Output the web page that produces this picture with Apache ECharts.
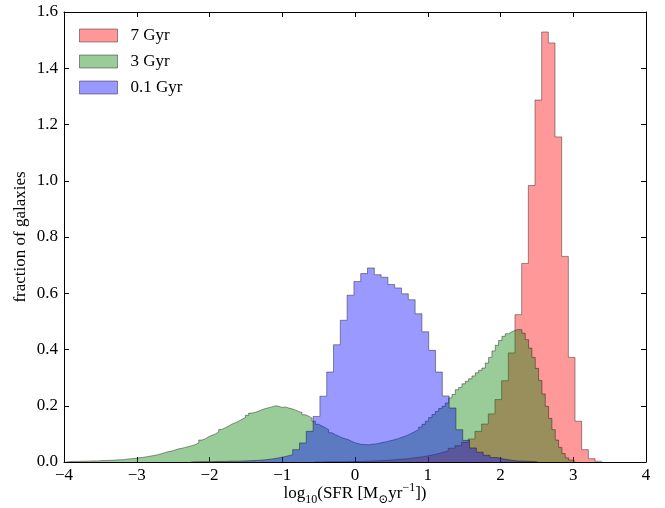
<!DOCTYPE html>
<html>
<head>
<meta charset="utf-8">
<script src="https://cdn.jsdelivr.net/npm/echarts@6/dist/echarts.min.js"></script>
<style>
  html, body { margin: 0; padding: 0; background: #fff; }
  #chart { width: 665px; height: 508px; }
</style>
</head>
<body>
<div id="chart"></div>
<script>
// histogram bins: left edge of first bin, bin width, bar heights
const redStart = -0.552, redWidth = 0.0917;
const red = [
  0.000, 0.001, 0.001, 0.001, 0.001, 0.002, 0.002, 0.003, 0.004, 0.005,
  0.006, 0.008, 0.010, 0.012, 0.015, 0.018, 0.022, 0.027, 0.033, 0.040,
  0.049, 0.058, 0.070, 0.082, 0.109, 0.135, 0.171, 0.222, 0.289, 0.388,
  0.524, 0.706, 0.983, 1.287, 1.529, 1.490, 1.156, 0.731, 0.372, 0.145,
  0.044, 0.012, 0.003
];

const greenStart = -3.98, greenWidth = 0.0458;
const green = [
  0.001, 0.002, 0.002, 0.002, 0.003, 0.003, 0.003, 0.004, 0.004, 0.004,
  0.005, 0.005, 0.006, 0.006, 0.007, 0.008, 0.008, 0.009, 0.011, 0.012,
  0.013, 0.015, 0.016, 0.018, 0.020, 0.022, 0.024, 0.027, 0.030, 0.034,
  0.037, 0.039, 0.043, 0.047, 0.049, 0.052, 0.055, 0.058, 0.062, 0.068,
  0.078, 0.083, 0.090, 0.095, 0.100, 0.107, 0.116, 0.122, 0.128, 0.135,
  0.140, 0.145, 0.152, 0.158, 0.166, 0.174, 0.177, 0.181, 0.186, 0.190,
  0.193, 0.196, 0.200, 0.198, 0.194, 0.196, 0.192, 0.189, 0.185, 0.180,
  0.176, 0.168, 0.163, 0.156, 0.145, 0.134, 0.128, 0.122, 0.115, 0.104,
  0.097, 0.092, 0.086, 0.083, 0.079, 0.073, 0.068, 0.065, 0.062, 0.062,
  0.061, 0.063, 0.064, 0.066, 0.069, 0.071, 0.074, 0.077, 0.080, 0.084,
  0.088, 0.092, 0.097, 0.103, 0.109, 0.116, 0.124, 0.134, 0.145, 0.158,
  0.169, 0.180, 0.190, 0.198, 0.210, 0.228, 0.240, 0.257, 0.265, 0.278,
  0.287, 0.296, 0.306, 0.317, 0.326, 0.334, 0.352, 0.372, 0.395, 0.415,
  0.432, 0.447, 0.456, 0.463, 0.468, 0.471, 0.470, 0.458, 0.435, 0.405,
  0.372, 0.333, 0.290, 0.242, 0.198, 0.155, 0.115, 0.078, 0.052, 0.030,
  0.015, 0.007, 0.002
];

const blueStart = -2.259, blueWidth = 0.0935;
const blue = [
  0.001, 0.001, 0.001, 0.002, 0.002, 0.003, 0.003, 0.004, 0.005, 0.006,
  0.008, 0.011, 0.015, 0.020, 0.026, 0.044, 0.068, 0.109,
  0.162, 0.234, 0.320, 0.417, 0.504, 0.593, 0.642, 0.670, 0.690, 0.666,
  0.657, 0.631, 0.619, 0.598, 0.577, 0.527, 0.463, 0.397, 0.320, 0.235,
  0.192, 0.115, 0.077, 0.050, 0.035, 0.024, 0.016, 0.011, 0.007, 0.004,
  0.003, 0.002, 0.001
];

const labels = ['7 Gyr', '3 Gyr', '0.1 Gyr'];
const xTicks = [-4, -3, -2, -1, 0, 1, 2, 3, 4];

const serif = "'Liberation Serif', 'DejaVu Serif', serif";
const fills = ['rgba(255,0,0,0.4)', 'rgba(0,128,0,0.4)', 'rgba(0,0,255,0.4)'];
const edge = 'rgba(0,0,0,0.4)';

// turn bins into points for a step line that outlines the histogram
function toSteps(start, width, vals) {
  const pts = [[start, 0]];
  vals.forEach((v, i) => pts.push([start + i * width, v]));
  pts.push([start + vals.length * width, 0]);
  return pts;
}

const hists = [
  toSteps(redStart, redWidth, red),
  toSteps(greenStart, greenWidth, green),
  toSteps(blueStart, blueWidth, blue)
];

const minus = v => (v < 0 ? '\u2212' + (-v) : String(v));

const myChart = echarts.init(document.getElementById('chart'));
const option = {
  animation: false,
  backgroundColor: '#fff',
  grid: {
    left: 64,
    right: 19,
    top: 12,
    bottom: 46,
    outerBoundsMode: 'none'
  },
  legend: {
    orient: 'vertical',
    left: 79,
    top: 27,
    padding: 0,
    icon: 'rect',
    itemWidth: 38,
    itemHeight: 13,
    itemGap: 9,
    textStyle: {
      fontFamily: serif,
      fontSize: 17,
      color: '#000',
      padding: [0, 0, 0, 8]
    },
    data: labels.map((name, i) => ({
      name: name,
      itemStyle: { color: fills[i], borderColor: edge, borderWidth: 1 }
    }))
  },
  xAxis: [{
    type: 'value',
    min: xTicks[0],
    max: xTicks[xTicks.length - 1],
    interval: 1,
    name: '{n|log}{s|10}{n|(SFR [M}{s|\u2299}{n|yr}{p|\u22121}{n|])}',
    nameLocation: 'middle',
    nameGap: 20,
    nameMoveOverlap: false,
    nameTextStyle: {
      color: '#000',
      rich: {
        n: { fontFamily: serif, fontSize: 17, lineHeight: 24, color: '#000' },
        s: { fontFamily: serif, fontSize: 12, lineHeight: 12, verticalAlign: 'bottom', color: '#000' },
        p: { fontFamily: serif, fontSize: 12, lineHeight: 12, verticalAlign: 'top', color: '#000' }
      }
    },
    axisLine: { onZero: false, lineStyle: { color: '#000', width: 1 } },
    axisTick: { inside: true, length: 5, lineStyle: { color: '#000' } },
    axisLabel: { formatter: minus, fontFamily: serif, fontSize: 17, color: '#000', margin: 5 },
    splitLine: { show: false }
  }, {
    type: 'value',
    position: 'top',
    min: xTicks[0],
    max: xTicks[xTicks.length - 1],
    interval: 1,
    axisLine: { onZero: false, lineStyle: { color: '#000', width: 1 } },
    axisTick: { inside: true, length: 5, lineStyle: { color: '#000' } },
    axisLabel: { show: false },
    splitLine: { show: false }
  }],
  yAxis: [{
    type: 'value',
    min: 0,
    max: 1.6,
    interval: 0.2,
    name: 'fraction of galaxies',
    nameLocation: 'middle',
    nameGap: 35,
    nameMoveOverlap: false,
    nameTextStyle: { fontFamily: serif, fontSize: 17, color: '#000' },
    axisLine: { show: true, onZero: false, lineStyle: { color: '#000', width: 1 } },
    axisTick: { show: true, inside: true, length: 5, lineStyle: { color: '#000' } },
    axisLabel: { formatter: v => v.toFixed(1), fontFamily: serif, fontSize: 17, color: '#000', margin: 6 },
    splitLine: { show: false }
  }, {
    type: 'value',
    position: 'right',
    min: 0,
    max: 1.6,
    interval: 0.2,
    axisLine: { show: true, onZero: false, lineStyle: { color: '#000', width: 1 } },
    axisTick: { show: true, inside: true, length: 5, lineStyle: { color: '#000' } },
    axisLabel: { show: false },
    splitLine: { show: false }
  }],
  series: labels.map((name, i) => ({
    name: name,
    type: 'line',
    xAxisIndex: 0,
    yAxisIndex: 0,
    step: 'end',
    showSymbol: false,
    symbol: 'none',
    lineStyle: { color: edge, width: 1 },
    itemStyle: { color: fills[i] },
    areaStyle: { color: fills[i], opacity: 1 },
    z: 2 + i,
    data: hists[i]
  }))
};
myChart.setOption(option);
</script>
</body>
</html>
